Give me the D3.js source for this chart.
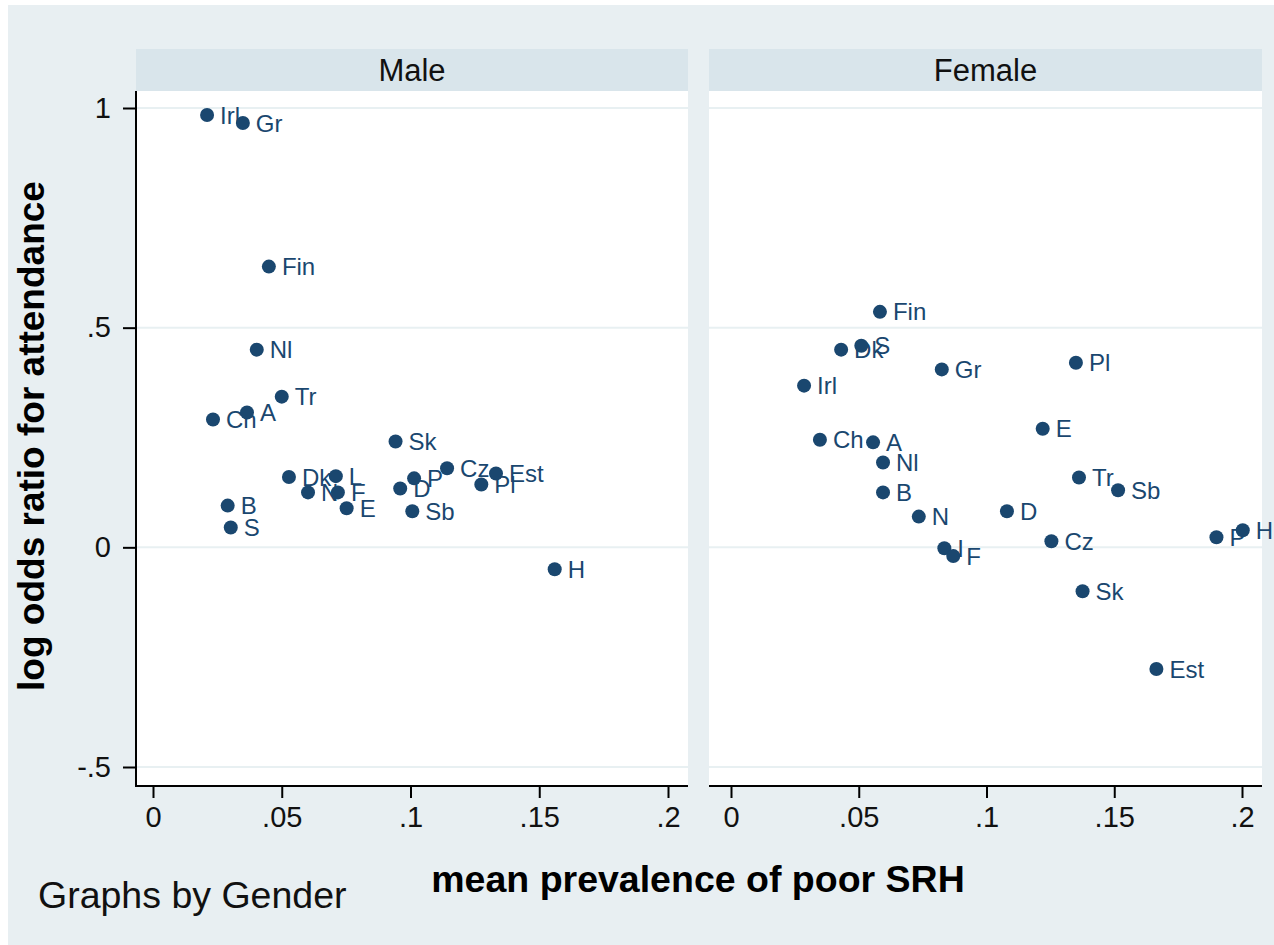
<!DOCTYPE html>
<html><head><meta charset="utf-8">
<script src="https://cdn.jsdelivr.net/npm/d3@7"></script>
<style>body{margin:0;background:#fff}svg{display:block;font-family:"Liberation Sans",Arial,sans-serif}</style>
</head><body>
<svg id="c" width="1274" height="945"></svg>
<script>
const panels = ["Male", "Female"];
const xTicks = [0, 0.05, 0.1, 0.15, 0.2];
const xTickLabels = ["0", ".05", ".1", ".15", ".2"];
const yTicks = [1, 0.5, 0, -0.5];
const yTickLabels = ["1", ".5", "0", "-.5"];

const maleLabels = ["Irl","Gr","Fin","Nl","Tr","A","Ch","Sk","Dk","L","N","F","E","B","S","P","D","Cz","Est","Pl","Sb","H"];
const maleX = [0.0210,0.0349,0.0450,0.0403,0.0500,0.0365,0.0233,0.0942,0.0528,0.0710,0.0602,0.0718,0.0752,0.0290,0.0302,0.1014,0.0960,0.1142,0.1332,0.1275,0.1007,0.1560];
const maleY = [0.984,0.966,0.639,0.450,0.343,0.307,0.291,0.241,0.160,0.162,0.125,0.125,0.089,0.095,0.045,0.157,0.134,0.180,0.168,0.143,0.082,-0.050];

const femaleLabels = ["Fin","Dk","S","Irl","Gr","Pl","E","Ch","A","Nl","B","N","I","F","D","Tr","Sb","Cz","P","H","Sk","Est"];
const femaleX = [0.0583,0.0431,0.0510,0.0286,0.0825,0.1350,0.1220,0.0348,0.0556,0.0595,0.0595,0.0735,0.0835,0.0870,0.1080,0.1362,0.1515,0.1254,0.1900,0.2003,0.1376,0.1665];
const femaleY = [0.536,0.450,0.459,0.368,0.405,0.420,0.270,0.245,0.239,0.193,0.125,0.070,-0.002,-0.020,0.082,0.159,0.130,0.014,0.023,0.039,-0.100,-0.277];

const seriesByPanel = {
  Male: {labels: maleLabels, x: maleX, y: maleY},
  Female: {labels: femaleLabels, x: femaleX, y: femaleY}
};

const svg = d3.select("#c");
const navy = "#1a476f";
svg.append("rect").attr("x",8).attr("y",5).attr("width",1266).attr("height",940).attr("fill","#e8eff2");

const plotTop = 91, plotBottom = 786;
const y = d3.scaleLinear().domain([-0.5, 1]).range([767, 108]);
const layout = {
  Male:   {left: 136, right: 688, x0: 153, x1: 668},
  Female: {left: 709, right: 1262, x0: 731, x1: 1242}
};

panels.forEach((p, pi) => {
  const L = layout[p];
  const x = d3.scaleLinear().domain([0, 0.2]).range([L.x0, L.x1]);
  const g = svg.append("g");
  g.append("rect").attr("x", L.left).attr("y", 49).attr("width", L.right - L.left).attr("height", plotTop - 49).attr("fill", "#d9e5eb");
  g.append("text").attr("x", (L.left + L.right) / 2).attr("y", 81).attr("text-anchor", "middle")
    .attr("font-size", 31).attr("fill", "#111").text(p);
  g.append("rect").attr("x", L.left).attr("y", plotTop).attr("width", L.right - L.left).attr("height", plotBottom - plotTop).attr("fill", "#fff");
  g.selectAll("line.grid").data(yTicks).join("line")
    .attr("x1", L.left).attr("x2", L.right).attr("y1", d => y(d)).attr("y2", d => y(d))
    .attr("stroke", "#e8f0f2").attr("stroke-width", 2);
  const xa = d3.axisBottom(x).tickValues(xTicks).tickFormat((d, i) => xTickLabels[i]).tickSize(12).tickPadding(8).tickSizeOuter(0);
  const ax = g.append("g").attr("transform", `translate(0,${plotBottom})`).call(xa);
  ax.select(".domain").remove();
  ax.append("line").attr("x1", L.left - (pi === 0 ? 1 : 0)).attr("x2", L.right).attr("y1", 0).attr("y2", 0).attr("stroke", "#000").attr("stroke-width", 2);
  ax.selectAll(".tick line").attr("stroke", "#000").attr("stroke-width", 2);
  ax.selectAll(".tick text").attr("font-size", 29).attr("fill", "#111").attr("font-family", "Liberation Sans, Arial, sans-serif");
  if (pi === 0) {
    const ya = d3.axisLeft(y).tickValues(yTicks).tickFormat((d, i) => yTickLabels[i]).tickSize(13).tickPadding(12).tickSizeOuter(0);
    const ay = g.append("g").attr("transform", `translate(${L.left},0)`).call(ya);
    ay.select(".domain").remove();
    ay.append("line").attr("x1", 0).attr("x2", 0).attr("y1", plotTop).attr("y2", plotBottom + 1).attr("stroke", "#000").attr("stroke-width", 2);
    ay.selectAll(".tick line").attr("stroke", "#000").attr("stroke-width", 2);
    ay.selectAll(".tick text").attr("font-size", 29).attr("fill", "#111").attr("font-family", "Liberation Sans, Arial, sans-serif");
  }
  const s = seriesByPanel[p];
  const data = s.labels.map((lab, i) => ({lab, x: s.x[i], y: s.y[i]}));
  g.selectAll("circle.pt").data(data).join("circle")
    .attr("cx", d => x(d.x)).attr("cy", d => y(d.y)).attr("r", 7).attr("fill", navy);
  g.selectAll("text.lab").data(data).join("text")
    .attr("x", d => x(d.x) + 13).attr("y", d => y(d.y)).attr("dy", "0.36em")
    .attr("font-size", 24).attr("fill", navy).text(d => d.lab);
});

svg.append("text").attr("transform", "translate(44,436) rotate(-90)").attr("text-anchor", "middle")
  .attr("font-size", 37).attr("font-weight", "bold").attr("fill", "#000").text("log odds ratio for attendance");
svg.append("text").attr("x", 698).attr("y", 892).attr("text-anchor", "middle")
  .attr("font-size", 37.5).attr("font-weight", "bold").attr("fill", "#000").text("mean prevalence of poor SRH");
svg.append("text").attr("x", 38).attr("y", 908)
  .attr("font-size", 37.5).attr("fill", "#111").text("Graphs by Gender");
</script>
</body></html>
